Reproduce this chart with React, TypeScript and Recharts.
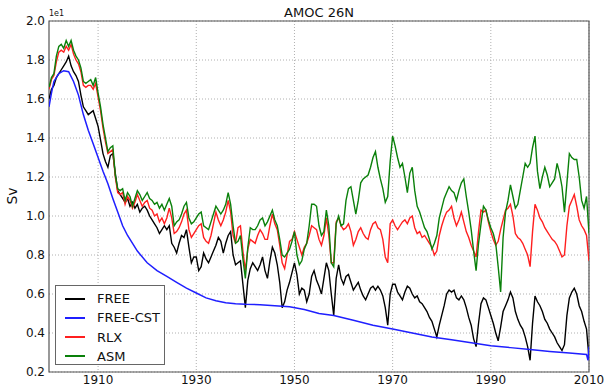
import React from 'react';
import { LineChart, Line, XAxis, YAxis, CartesianGrid, ReferenceArea } from 'recharts';

// Half-yearly sampled AMOC at 26N (units of 10 Sv), starting 1900.0
const FIRST_YEAR = 1900;
const STEP = 0.5;

const free = [
  1.60, 1.65, 1.67, 1.71, 1.73, 1.75, 1.77, 1.79, 1.82, 1.77, 1.74, 1.72, 1.69, 1.62, 1.56, 1.54, 1.52, 1.53, 1.54, 1.50,
  1.46, 1.39, 1.32, 1.28, 1.25, 1.31, 1.32, 1.22, 1.13, 1.11, 1.09, 1.07, 1.09, 1.05, 1.07, 1.04, 1.06, 1.02, 1.04, 1.05,
  1.03, 1.00, 0.98, 0.96, 0.94, 0.91, 0.93, 0.95, 0.93, 0.95, 0.86, 0.84, 0.81, 0.86, 0.90, 0.89, 0.93, 0.84, 0.76, 0.79,
  0.79, 0.72, 0.74, 0.81, 0.78, 0.76, 0.79, 0.82, 0.85, 0.89, 0.87, 0.81, 0.86, 0.90, 0.92, 0.80, 0.75, 0.76, 0.77, 0.65,
  0.53, 0.67, 0.73, 0.76, 0.74, 0.72, 0.75, 0.79, 0.72, 0.68, 0.77, 0.84, 0.81, 0.75, 0.66, 0.53, 0.56, 0.62, 0.66, 0.71,
  0.76, 0.70, 0.60, 0.63, 0.62, 0.56, 0.60, 0.69, 0.72, 0.67, 0.64, 0.60, 0.68, 0.76, 0.72, 0.60, 0.49, 0.68, 0.75, 0.68,
  0.65, 0.69, 0.70, 0.66, 0.62, 0.64, 0.66, 0.62, 0.59, 0.57, 0.60, 0.63, 0.64, 0.62, 0.64, 0.62, 0.59, 0.53, 0.44, 0.60,
  0.65, 0.65, 0.61, 0.59, 0.57, 0.61, 0.64, 0.63, 0.60, 0.58, 0.59, 0.56, 0.55, 0.53, 0.51, 0.48, 0.46, 0.42, 0.38, 0.44,
  0.49, 0.54, 0.60, 0.62, 0.61, 0.62, 0.58, 0.57, 0.59, 0.57, 0.53, 0.48, 0.44, 0.37, 0.33, 0.45, 0.55, 0.58, 0.57, 0.53,
  0.49, 0.45, 0.40, 0.36, 0.43, 0.51, 0.54, 0.57, 0.61, 0.58, 0.51, 0.47, 0.44, 0.42, 0.38, 0.33, 0.26, 0.45, 0.59, 0.56,
  0.54, 0.51, 0.47, 0.45, 0.42, 0.40, 0.38, 0.35, 0.33, 0.31, 0.34, 0.49, 0.58, 0.61, 0.63, 0.60, 0.54, 0.51, 0.46, 0.42,
  0.27,
];

const rlx = [
  1.65, 1.70, 1.72, 1.79, 1.84, 1.85, 1.84, 1.87, 1.85, 1.88, 1.83, 1.80, 1.78, 1.74, 1.67, 1.66, 1.67, 1.67, 1.65, 1.68,
  1.61, 1.54, 1.45, 1.38, 1.32, 1.33, 1.34, 1.20, 1.12, 1.11, 1.12, 1.06, 1.10, 1.08, 1.04, 1.07, 1.11, 1.08, 1.05, 1.07,
  1.08, 1.04, 1.03, 1.00, 1.01, 0.97, 0.99, 0.96, 0.99, 1.04, 0.99, 0.91, 0.92, 0.94, 0.97, 1.01, 1.03, 0.93, 0.89, 0.91,
  0.93, 0.95, 0.96, 0.89, 0.87, 0.86, 0.90, 0.96, 1.02, 0.98, 0.95, 0.98, 1.02, 1.08, 1.02, 0.90, 0.86, 0.94, 0.95, 0.82,
  0.72, 0.83, 0.88, 0.87, 0.86, 0.90, 0.93, 0.91, 0.88, 0.88, 0.95, 1.01, 0.96, 0.93, 0.85, 0.76, 0.73, 0.80, 0.87, 0.88,
  0.92, 0.88, 0.84, 0.80, 0.84, 0.86, 0.90, 0.95, 0.94, 0.93, 0.88, 0.85, 0.90, 0.99, 0.90, 0.76, 0.76, 0.97, 0.99, 0.95,
  0.93, 0.94, 0.96, 0.92, 0.85, 0.88, 0.92, 0.94, 0.91, 0.89, 0.88, 0.93, 0.96, 0.97, 0.94, 0.93, 0.88, 0.79, 0.76, 0.96,
  0.98, 0.95, 0.93, 0.95, 0.97, 0.98, 0.96, 0.99, 1.00, 0.94, 0.91, 0.92, 0.89, 0.90, 0.88, 0.86, 0.84, 0.80, 0.82, 0.90,
  0.95, 0.99, 1.02, 1.03, 1.05, 0.99, 0.95, 0.98, 1.02, 0.97, 0.92, 0.89, 0.85, 0.82, 0.79, 0.92, 1.03, 1.02, 1.03, 0.97,
  0.92, 0.88, 0.85, 0.87, 0.93, 0.98, 1.03, 1.04, 1.06, 1.00, 0.91, 0.89, 0.88, 0.86, 0.83, 0.80, 0.74, 0.92, 1.06, 1.03,
  0.99, 0.97, 0.94, 0.92, 0.90, 0.88, 0.87, 0.85, 0.82, 0.79, 0.80, 0.95, 1.05, 1.08, 1.11, 1.05, 0.98, 0.95, 0.93, 0.90,
  0.77,
];

const asm = [
  1.66, 1.71, 1.73, 1.82, 1.87, 1.88, 1.86, 1.90, 1.87, 1.90, 1.85, 1.82, 1.80, 1.76, 1.69, 1.68, 1.69, 1.70, 1.67, 1.71,
  1.63, 1.56, 1.47, 1.40, 1.33, 1.35, 1.36, 1.21, 1.14, 1.13, 1.14, 1.08, 1.12, 1.10, 1.05, 1.09, 1.13, 1.11, 1.08, 1.10,
  1.12, 1.09, 1.08, 1.06, 1.07, 1.04, 1.06, 1.03, 1.06, 1.09, 1.05, 0.95, 0.97, 0.98, 1.01, 1.05, 1.07, 0.99, 0.96, 0.97,
  0.99, 1.01, 1.02, 0.95, 0.94, 0.93, 0.97, 1.01, 1.05, 1.03, 1.01, 1.03, 1.06, 1.12, 1.06, 0.95, 0.86, 0.87, 0.90, 0.78,
  0.68, 0.84, 0.94, 0.93, 0.93, 0.95, 0.98, 0.99, 0.95, 0.97, 1.00, 1.03, 0.98, 0.95, 0.88, 0.80, 0.79, 0.81, 0.83, 0.87,
  0.92, 0.80, 0.75, 0.77, 0.83, 0.86, 0.95, 1.06, 1.06, 1.05, 0.95, 0.90, 0.92, 1.03, 0.95, 0.76, 0.74, 0.96, 1.00, 0.95,
  0.96, 1.08, 1.14, 1.15, 1.08, 1.01, 1.08, 1.17, 1.19, 1.20, 1.21, 1.25, 1.30, 1.33, 1.25, 1.19, 1.14, 1.07, 1.10, 1.28,
  1.41, 1.36, 1.30, 1.25, 1.27, 1.20, 1.12, 1.22, 1.25, 1.13, 1.05, 1.02, 0.98, 0.94, 0.92, 0.88, 0.83, 0.86, 0.90, 0.99,
  1.04, 1.09, 1.12, 1.15, 1.13, 1.12, 1.08, 1.13, 1.17, 1.19, 1.10, 1.02, 0.93, 0.82, 0.72, 0.86, 0.96, 1.05, 1.03, 0.98,
  0.94, 0.91, 0.86, 0.74, 0.61, 0.89, 1.02, 1.08, 1.16, 1.10, 1.04, 1.06, 1.13, 1.20, 1.27, 1.25, 1.27, 1.35, 1.41, 1.23,
  1.14, 1.20, 1.25, 1.21, 1.15, 1.17, 1.19, 1.27, 1.22, 1.15, 1.02, 1.17, 1.32, 1.30, 1.29, 1.29, 1.20, 1.08, 1.04, 1.10,
  0.91,
];

// The constant-forcing run is smooth, so it is sampled more coarsely
const cstYears = [
  1900, 1900.5, 1901, 1902, 1903, 1904, 1905, 1906, 1907, 1908, 1909, 1910, 1911, 1912, 1913, 1914, 1915, 1916,
  1918, 1920, 1922, 1924, 1926, 1928, 1930, 1932, 1934, 1936, 1938, 1940, 1943, 1946, 1949, 1952, 1955, 1958,
  1962, 1966, 1970, 1974, 1978, 1982, 1986, 1990, 1994, 1998, 2002, 2006, 2009.5, 2009.8, 2010,
];
const freeCst = [
  1.56, 1.63, 1.69, 1.73, 1.745, 1.74, 1.69, 1.62, 1.52, 1.44, 1.37, 1.30, 1.23, 1.165, 1.09, 1.02, 0.95, 0.90,
  0.82, 0.76, 0.72, 0.69, 0.66, 0.63, 0.605, 0.58, 0.565, 0.555, 0.55, 0.547, 0.545, 0.54, 0.535, 0.52, 0.50, 0.49,
  0.465, 0.44, 0.42, 0.40, 0.38, 0.365, 0.35, 0.335, 0.325, 0.315, 0.305, 0.297, 0.29, 0.26, 0.33,
];

const xTicks = [1910, 1930, 1950, 1970, 1990, 2010];
const yTicks = [0.2, 0.4, 0.6, 0.8, 1.0, 1.2, 1.4, 1.6, 1.8, 2.0];

const seriesNames = ['FREE', 'FREE-CST', 'RLX', 'ASM'];
const seriesColors = ['#000000', '#1f1fff', '#ff1f1f', '#0a800a'];

const runData = free.map((v, i) => ({
  year: FIRST_YEAR + i * STEP,
  FREE: v,
  RLX: rlx[i],
  ASM: asm[i],
}));
const cstData = cstYears.map((y, i) => ({ year: y, 'FREE-CST': freeCst[i] }));

const FONT = '"DejaVu Sans", sans-serif';

export default function App() {
  return (
    <div style={{ position: 'absolute', left: 0, top: 0, width: 607, height: 392, background: '#fff', fontFamily: FONT }}>
      <LineChart
        width={607}
        height={392}
        data={runData}
        margin={{ top: 21, right: 18, bottom: 0, left: 0 }}
      >
        <CartesianGrid stroke="#b0b0b0" strokeDasharray="1 2" horizontalValues={yTicks} verticalValues={xTicks} />
        <XAxis
          dataKey="year"
          type="number"
          domain={[1900, 2010]}
          ticks={xTicks}
          allowDataOverflow
          axisLine={false}
          tickLine={false}
          tickSize={0}
          tickMargin={3}
          height={20}
          tick={{ fill: '#111', fontSize: 12, fontFamily: FONT }}
        />
        <YAxis
          type="number"
          domain={[0.2, 2.0]}
          ticks={yTicks}
          allowDataOverflow
          axisLine={false}
          tickLine={false}
          tickSize={0}
          tickMargin={4}
          width={49}
          tickFormatter={(v: number) => v.toFixed(1)}
          tick={{ fill: '#111', fontSize: 12, fontFamily: FONT }}
        />
        <Line dataKey="FREE" stroke={seriesColors[0]} strokeWidth={1.4} dot={false} isAnimationActive={false} />
        <Line data={cstData} dataKey="FREE-CST" stroke={seriesColors[1]} strokeWidth={1.5} dot={false} isAnimationActive={false} />
        <Line dataKey="RLX" stroke={seriesColors[2]} strokeWidth={1.4} dot={false} isAnimationActive={false} />
        <Line dataKey="ASM" stroke={seriesColors[3]} strokeWidth={1.4} dot={false} isAnimationActive={false} />
        <ReferenceArea x1={1900} x2={2010} y1={0.2} y2={2.0} fill="none" stroke="#555" strokeWidth={1.2} ifOverflow="visible" />
      </LineChart>

      <div style={{ position: 'absolute', left: 0, width: 638, top: 5, textAlign: 'center', fontSize: 13, color: '#111' }}>
        AMOC 26N
      </div>
      <div style={{ position: 'absolute', left: 49, top: 9, fontSize: 8, color: '#111' }}>1e1</div>
      <div
        style={{
          position: 'absolute',
          left: 12,
          top: 196,
          transform: 'translate(-50%, -50%) rotate(-90deg)',
          fontSize: 14,
          color: '#111',
        }}
      >
        Sv
      </div>

      <div
        style={{
          position: 'absolute',
          left: 55,
          top: 285,
          width: 110,
          height: 80,
          border: '1px solid #666',
          background: '#fff',
          boxSizing: 'border-box',
        }}
      >
        {seriesNames.map((name, i) => (
          <div key={name} style={{ position: 'absolute', left: 0, top: 3 + i * 19.3, height: 19, display: 'flex', alignItems: 'center' }}>
            <div style={{ marginLeft: 9, width: 20, height: 2, background: seriesColors[i] }} />
            <span style={{ marginLeft: 12, fontSize: 13, color: '#111' }}>{name}</span>
          </div>
        ))}
      </div>
    </div>
  );
}
